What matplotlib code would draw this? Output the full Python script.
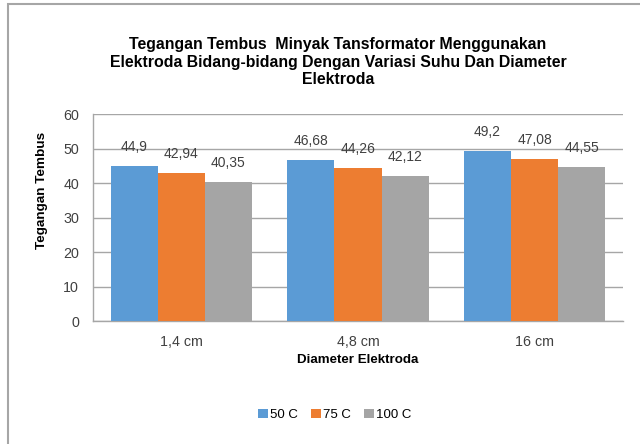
import matplotlib.pyplot as plt
import matplotlib.patches as mpatches
import numpy as np

plt.rcParams['font.family'] = ['Liberation Sans', 'DejaVu Sans']

categories = ['1,4 cm', '4,8 cm', '16 cm']
series = ['50 C', '75 C', '100 C']
values = [
    [44.9, 46.68, 49.2],
    [42.94, 44.26, 47.08],
    [40.35, 42.12, 44.55],
]
labels = [
    ['44,9', '46,68', '49,2'],
    ['42,94', '44,26', '47,08'],
    ['40,35', '42,12', '44,55'],
]
colors = ['#5B9BD5', '#ED7D31', '#A5A5A5']

W, H = 640, 444
fig = plt.figure(figsize=(W / 100, H / 100), dpi=100)
ax = fig.add_axes([93 / W, 1 - 321 / H, (623 - 93) / W, (321 - 114) / H])

# outer chart frame (only left and top visible in the reference)
fig.patches.append(mpatches.Rectangle((8 / W, -0.5), 2, 0.5 + 1 - 4 / H,
                                      transform=fig.transFigure, fill=False,
                                      edgecolor='#A6A6A6', linewidth=1.5))

x = np.arange(len(categories))
bw = 0.8 / 3
for i, (vals, lab, c) in enumerate(zip(values, labels, colors)):
    pos = x - bw + i * bw
    bars = ax.bar(pos, vals, bw, color=c, label=series[i], zorder=3)
    for b, t in zip(bars, lab):
        ax.annotate(t, (b.get_x() + b.get_width() / 2, b.get_height()),
                    xytext=(0, 8.5), textcoords='offset points',
                    ha='center', va='bottom', fontsize=10, color='#404040')

ax.set_xlim(-0.5, 2.5)
ax.set_ylim(0, 60)
ax.set_yticks(range(0, 61, 10))
ax.set_xticks(x)
ax.set_xticklabels(categories)
ax.tick_params(length=0, labelsize=10.3, colors='#404040')
ax.tick_params(axis='x', pad=10)
ax.tick_params(axis='y', pad=10)
ax.grid(axis='y', color='#A6A6A6', linewidth=1, zorder=0)
for s in ['top', 'right']:
    ax.spines[s].set_visible(False)
for s in ['left', 'bottom']:
    ax.spines[s].set_color('#A6A6A6')
    ax.spines[s].set_linewidth(1)

fig.text(338 / W, 1 - 62 / H,
         'Tegangan Tembus  Minyak Tansformator Menggunakan\n'
         'Elektroda Bidang-bidang Dengan Variasi Suhu Dan Diameter\n'
         'Elektroda',
         ha='center', va='center', fontsize=11.4, fontweight='bold',
         linespacing=1.2)
fig.text(42 / W, 1 - 190 / H, 'Tegangan Tembus', rotation=90,
         ha='center', va='center', fontsize=9.7, fontweight='bold')
fig.text(358 / W, 1 - 360 / H, 'Diameter Elektroda',
         ha='center', va='center', fontsize=9.6, fontweight='bold')

fig.legend(loc='center', bbox_to_anchor=(335 / W, 1 - 415 / H), ncol=3,
           frameon=False, fontsize=9.5, handlelength=0.7, handleheight=0.7,
           handletextpad=0.2, columnspacing=1.0)

plt.savefig('out.png', dpi=100)
